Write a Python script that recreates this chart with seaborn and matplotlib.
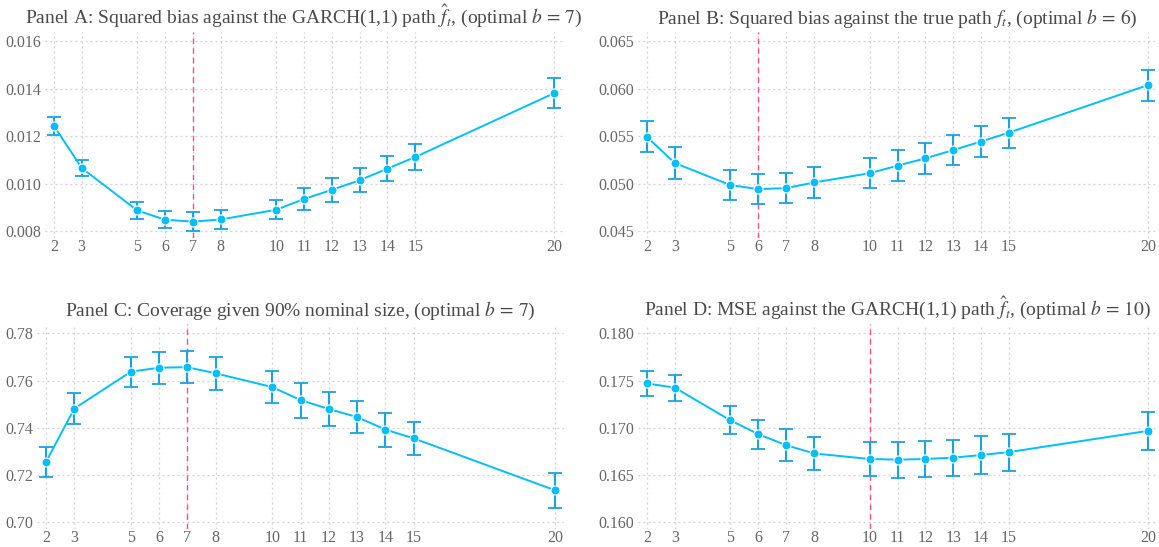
import numpy as np
import matplotlib
matplotlib.use("Agg")
import matplotlib.pyplot as plt
import seaborn as sns

# Block sizes b on the x axis
b_values = [2, 3, 5, 6, 7, 8, 10, 11, 12, 13, 14, 15, 20]

# Panel A: squared bias against the GARCH(1,1) path
bias_garch = [0.01245, 0.01067, 0.00888, 0.00849, 0.00841, 0.00850, 0.00891,
              0.00936, 0.00975, 0.01015, 0.01064, 0.01113, 0.01382]
bias_garch_err = [0.00038, 0.00034, 0.00034, 0.00036, 0.00041, 0.00041, 0.00041,
                  0.00047, 0.00050, 0.00051, 0.00053, 0.00055, 0.00063]

# Panel B: squared bias against the true path
bias_true = [0.05495, 0.05220, 0.04987, 0.04945, 0.04955, 0.05015, 0.05112,
             0.05192, 0.05269, 0.05356, 0.05446, 0.05540, 0.06041]
bias_true_err = [0.00163, 0.00165, 0.00158, 0.00160, 0.00155, 0.00163, 0.00160,
                 0.00160, 0.00160, 0.00158, 0.00162, 0.00157, 0.00163]

# Panel C: coverage given 90% nominal size
coverage = [0.7256, 0.7482, 0.7638, 0.7655, 0.7657, 0.7631, 0.7573,
            0.7518, 0.7480, 0.7446, 0.7393, 0.7356, 0.7136]
coverage_err = [0.0062, 0.0065, 0.0064, 0.0067, 0.0067, 0.0071, 0.0069,
                0.0074, 0.0073, 0.0069, 0.0072, 0.0070, 0.0073]

# Panel D: MSE against the GARCH(1,1) path
mse_garch = [0.17471, 0.17426, 0.17080, 0.16934, 0.16817, 0.16730, 0.16671,
             0.16664, 0.16671, 0.16685, 0.16713, 0.16744, 0.16969]
mse_garch_err = [0.00133, 0.00139, 0.00147, 0.00155, 0.00170, 0.00175, 0.00175,
                 0.00190, 0.00195, 0.00192, 0.00197, 0.00196, 0.00203]

titles = [
    r"Panel A: Squared bias against the GARCH(1,1) path $\hat{f}_t$, (optimal $b\,=\,7$)",
    r"Panel B: Squared bias against the true path $f_t$, (optimal $b\,=\,6$)",
    r"Panel C: Coverage given 90% nominal size, (optimal $b\,=\,7$)",
    r"Panel D: MSE against the GARCH(1,1) path $\hat{f}_t$, (optimal $b\,=\,10$)",
]
optimal_b = [7, 6, 7, 10]
y_ticks = [
    [0.008, 0.010, 0.012, 0.014, 0.016],
    [0.045, 0.050, 0.055, 0.060, 0.065],
    [0.70, 0.72, 0.74, 0.76, 0.78],
    [0.160, 0.165, 0.170, 0.175, 0.180],
]
y_fmt = ["{:.3f}", "{:.3f}", "{:.2f}", "{:.3f}"]

sns.set_theme(style="white")
plt.rcParams["font.family"] = ["Liberation Serif", "DejaVu Serif"]
plt.rcParams["mathtext.fontset"] = "stix"

line_col = "#00bfff"
err_col = "#1aa3df"
vline_col = "#ff4f8b"
grid_col = "#cfcfe0"

W, H = 1159, 547
fig = plt.figure(figsize=(W / 100, H / 100), dpi=100)

# axes boxes in pixels: left, top, right, bottom
boxes = [(45, 32, 563, 238), (638, 32, 1157, 238),
         (37, 324, 564, 529), (638, 324, 1157, 529)]

series = [(bias_garch, bias_garch_err), (bias_true, bias_true_err),
          (coverage, coverage_err), (mse_garch, mse_garch_err)]

for i, (vals, errs) in enumerate(series):
    l, t, r, b = boxes[i]
    ax = fig.add_axes([l / W, 1 - b / H, (r - l) / W, (b - t) / H])

    ax.errorbar(b_values, vals, yerr=errs, fmt="none", ecolor=err_col,
                elinewidth=1.5, capsize=5, capthick=1.3, zorder=2)
    sns.lineplot(x=b_values, y=vals, ax=ax, color=line_col, linewidth=1.4,
                 marker="o", markersize=6.5, markeredgecolor="white",
                 markeredgewidth=0.8, zorder=3)
    ax.axvline(optimal_b[i], color=vline_col, linestyle=(0, (4, 3)),
               linewidth=1.0, zorder=1)

    yt = y_ticks[i]
    rng = yt[-1] - yt[0]
    ax.set_ylim(yt[0] - 0.035 * rng, yt[-1] + 0.05 * rng)
    ax.set_xlim(1.68, 20.32)
    ax.set_xticks(b_values)
    ax.set_xticklabels([str(v) for v in b_values])
    ax.set_yticks(yt)
    ax.set_yticklabels([y_fmt[i].format(v) for v in yt])

    ax.grid(True, linestyle=(0, (1.5, 2.5)), color=grid_col, linewidth=0.9)
    ax.set_axisbelow(True)
    for s in ax.spines.values():
        s.set_visible(False)
    ax.tick_params(axis="y", length=0, labelsize=11.5, colors="#666666", pad=3)
    ax.tick_params(axis="x", length=0, labelsize=11.5, colors="#666666", pad=0.5)
    ax.set_xlabel("")
    ax.set_ylabel("")
    ax.set_title(titles[i], fontsize=14, color="#4a4a4a", pad=6)

fig.savefig("out.png", dpi=100)
